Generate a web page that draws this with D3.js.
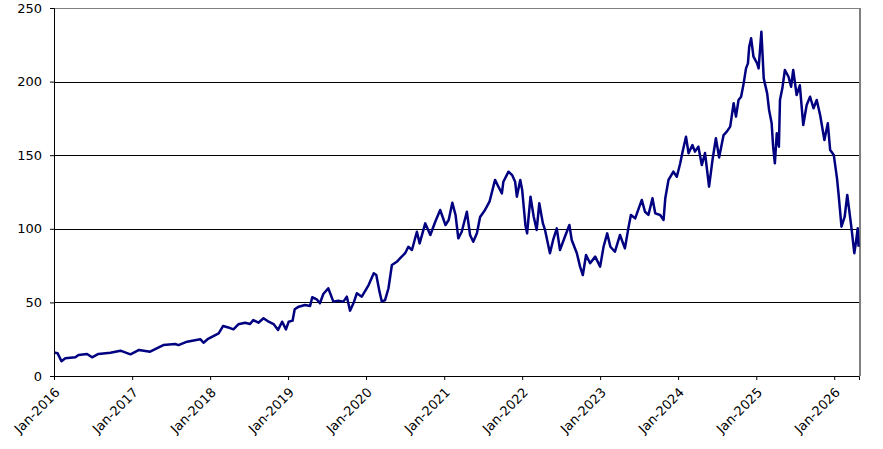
<!DOCTYPE html>
<html>
<head>
<meta charset="utf-8">
<script src="https://cdn.jsdelivr.net/npm/d3@7"></script>
<style>
  html, body { margin: 0; padding: 0; background: #ffffff; }
  svg text { font-family: "DejaVu Sans", Verdana, sans-serif; font-size: 13px; fill: #000; }
</style>
</head>
<body>
<svg id="chart" width="883" height="449"></svg>
<script>
// ---- data ----
const dates = [
  "2016-01-01","2016-01-18","2016-02-05","2016-02-23","2016-04-10","2016-04-25","2016-06-04","2016-06-27","2016-07-27","2016-09-21","2016-11-07","2016-12-24",
  "2017-02-02","2017-03-26","2017-05-27","2017-07-21","2017-08-06","2017-09-15","2017-11-16","2017-12-01","2017-12-20",
  "2018-02-10","2018-03-03","2018-03-27","2018-04-20","2018-05-13","2018-06-14","2018-07-07","2018-07-22","2018-08-15","2018-09-08","2018-10-02","2018-10-25","2018-11-15","2018-12-04","2018-12-22",
  "2019-01-04","2019-01-22","2019-02-01","2019-02-20","2019-03-21","2019-04-14","2019-04-24","2019-05-15","2019-05-30","2019-06-15","2019-07-08","2019-08-01","2019-08-24","2019-09-17","2019-10-03","2019-10-18","2019-11-03","2019-11-19","2019-12-12",
  "2020-01-13","2020-02-06","2020-02-18","2020-03-04","2020-03-15","2020-03-30","2020-04-15","2020-05-01","2020-05-24","2020-06-09","2020-07-02","2020-07-17","2020-08-03","2020-08-26","2020-09-08","2020-10-04","2020-10-28","2020-11-20","2020-12-13",
  "2021-01-07","2021-01-22","2021-02-08","2021-02-23","2021-03-08","2021-03-24","2021-04-17","2021-05-02","2021-05-17","2021-06-03","2021-06-18","2021-07-11","2021-08-01","2021-08-27","2021-09-12","2021-09-28","2021-10-05","2021-10-29","2021-11-15","2021-11-29","2021-12-07","2021-12-23",
  "2022-01-01","2022-01-16","2022-01-24","2022-02-09","2022-02-24","2022-03-10","2022-03-22","2022-04-08","2022-04-18","2022-05-11","2022-05-26","2022-06-12","2022-06-27","2022-07-20","2022-08-10","2022-08-21","2022-09-14","2022-09-29","2022-10-12","2022-10-27","2022-11-15","2022-12-09",
  "2023-01-01","2023-01-17","2023-02-03","2023-02-18","2023-03-11","2023-04-04","2023-04-27","2023-05-13","2023-05-25","2023-06-14","2023-07-15","2023-07-30","2023-08-15","2023-09-03","2023-09-16","2023-10-09","2023-10-25","2023-11-02","2023-11-17","2023-12-10","2023-12-26",
  "2024-01-11","2024-01-22","2024-02-07","2024-02-19","2024-03-08","2024-03-20","2024-04-05","2024-04-21","2024-05-06","2024-05-25","2024-06-10","2024-06-26","2024-07-11","2024-08-01","2024-08-16","2024-09-01","2024-09-17","2024-09-28","2024-10-10","2024-10-22","2024-11-03","2024-11-14","2024-11-23","2024-11-29","2024-12-08","2024-12-19",
  "2025-01-05","2025-01-12","2025-01-25","2025-02-05","2025-02-21","2025-03-02","2025-03-14","2025-03-21","2025-03-29","2025-04-07","2025-04-17","2025-04-22","2025-05-03","2025-05-15","2025-06-01","2025-06-13","2025-06-23","2025-07-09","2025-07-24","2025-08-09","2025-08-25","2025-09-10","2025-09-26","2025-10-11","2025-10-27","2025-11-16","2025-12-02","2025-12-13","2025-12-30",
  "2026-01-14","2026-01-21","2026-02-04","2026-02-19","2026-03-03","2026-03-12","2026-03-23","2026-04-05","2026-04-13","2026-04-21","2026-04-25"
];
const values = [
  16,15.4,10,12,12.7,14.3,15,12.7,15,15.8,17.2,14.7,
  17.7,16.5,21,21.7,21,23.3,25,22.6,25,
  29,34,33,31.7,35.1,36.2,35.3,38,36.2,39.2,36.9,35.3,31.3,36.9,31.7,
  36.9,37.6,45.3,47.1,48.2,47.6,53.5,52.1,49.4,55.7,59.6,50.5,51.2,50.5,53.9,44.4,49.4,56.2,53.9,
  61.8,69.8,68.6,57.3,50.5,51.6,59.6,75.4,77.6,80,83.4,87.8,85.6,98,90.1,103.7,95.8,104.8,112.8,
  102.6,106,117.7,109.4,93.5,98,111.6,95.8,91.2,96.9,108,112.8,118.4,133.2,128.6,124.1,132,138.8,136.5,132,121.8,133.2,
  126.4,102.6,96.9,121.8,108.2,99.2,117.3,103.7,99.2,83.4,92.4,100.3,85.6,94.6,102.6,92.4,83.4,74.3,68.6,82.2,76.6,81.1,
  74.3,87.8,96.9,87.8,84.4,95.8,86.7,100.3,109.4,107.1,119.6,111.6,109.4,120.7,110.5,109.4,106,120.7,133.2,138.8,135.4,
  144.5,152.4,162.6,151.3,156.9,152.4,155.8,143.3,151.5,128.6,146.7,161.5,148.5,163.7,166,169.4,185.3,176.2,187.5,189.7,198.8,209,212.4,223.7,229.4,216.9,
  212.4,209,233.9,202.2,192,180.7,171.7,155.8,144.5,164.9,155.8,187.5,195.4,207.9,203.3,196.5,207.9,190.9,197.5,170.5,184.1,189.7,181.9,187.5,177.3,160.3,171.7,153.5,150.1,
  134.3,124.1,101.4,108.2,123,112.8,100.3,83.4,91.2,100.3,87.8
];
const yTicks = [0, 50, 100, 150, 200, 250];
const xTickYears = [2016, 2017, 2018, 2019, 2020, 2021, 2022, 2023, 2024, 2025, 2026];
const domainStart = "2016-01-01";
const domainEnd = "2026-04-27";

// ---- layout ----
const margin = { left: 54, top: 8, right: 24, bottom: 73 };
const W = 883, H = 449;
const iw = W - margin.left - margin.right;
const ih = H - margin.top - margin.bottom;

const parse = d3.timeParse("%Y-%m-%d");
const fmt = d3.timeFormat("%b-%Y");
const data = dates.map((d, i) => ({ date: parse(d), value: values[i] }));

const x = d3.scaleTime().domain([parse(domainStart), parse(domainEnd)]).range([0, iw]);
const y = d3.scaleLinear().domain([0, 250]).range([ih, 0]);

const svg = d3.select("#chart");
const g = svg.append("g").attr("transform", `translate(${margin.left},${margin.top})`);

// gridlines
g.append("g").selectAll("line").data(yTicks.filter(t => t > 0)).join("line")
  .attr("x1", 0).attr("x2", iw)
  .attr("y1", d => Math.round(y(d)) + 0.5).attr("y2", d => Math.round(y(d)) + 0.5)
  .attr("stroke", d => d === 250 ? "#808080" : "#000").attr("stroke-width", 1)
  .attr("shape-rendering", "crispEdges");

// right border
g.append("line").attr("x1", iw + 0.5).attr("x2", iw + 0.5).attr("y1", 0).attr("y2", ih)
  .attr("stroke", "#808080").attr("stroke-width", 2).attr("shape-rendering", "crispEdges");

// line
const line = d3.line().x(d => x(d.date)).y(d => y(d.value));
g.append("path").datum(data)
  .attr("fill", "none").attr("stroke", "#000080").attr("stroke-width", 2.5)
  .attr("stroke-linejoin", "round").attr("d", line);

// y axis
const yAxis = g.append("g")
  .call(d3.axisLeft(y).tickValues(yTicks).tickSize(4).tickPadding(8));
yAxis.select(".domain").attr("stroke", "#000");
yAxis.selectAll(".tick line").attr("stroke", "#000");
yAxis.selectAll("text").attr("font-family", "DejaVu Sans").attr("font-size", 13);

// x axis
const xAxis = g.append("g").attr("transform", `translate(0,${ih})`)
  .call(d3.axisBottom(x).tickValues(xTickYears.map(yr => new Date(yr, 0, 1))).tickFormat(fmt).tickSize(4));
xAxis.select(".domain").attr("stroke", "#000");
xAxis.selectAll(".tick line").attr("stroke", "#000");
xAxis.selectAll("text")
  .attr("font-family", "DejaVu Sans").attr("font-size", 13)
  .attr("text-anchor", "end")
  .attr("x", 0).attr("y", 0).attr("dy", "0.35em")
  .attr("transform", "translate(3,14) rotate(-45)");
</script>
</body>
</html>
